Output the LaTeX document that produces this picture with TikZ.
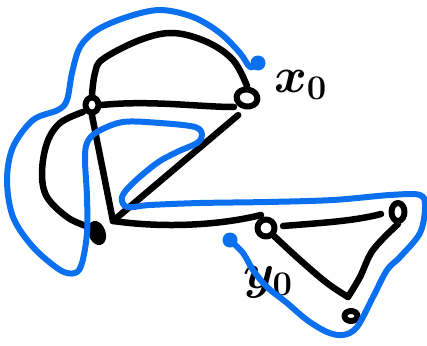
\documentclass[tikz,border=0pt]{standalone}
\usetikzlibrary{shapes.geometric}
\definecolor{pen}{RGB}{10,112,240}
\begin{document}
\begin{tikzpicture}[x=1pt,y=-1pt,line cap=round,line join=round,
  ink/.style={line width=6.5pt,black},
  blueink/.style={line width=6pt,color=pen},
  vtx/.style={ellipse,draw,line width=6pt,inner sep=0pt},
  bdot/.style={circle,fill=pen,inner sep=0pt,minimum size=15pt},
  lbl/.style={font=\Huge\boldmath,inner sep=0pt,anchor=base west}]
\useasboundingbox (0,0) rectangle (427,345);
% vertices
\node[vtx,minimum width=13pt,minimum height=15pt] (A) at (92,105) {};
\node[vtx,minimum width=21pt,minimum height=17pt,rotate=-10] (B) at (247,98) {};
\node[vtx,fill,minimum width=11pt,minimum height=19pt,rotate=20] (C) at (97,233) {};
\node[vtx,minimum width=17pt,minimum height=17pt] (D) at (266,228) {};
\node[vtx,minimum width=13pt,minimum height=18pt] (E) at (398,212) {};
\node[vtx,minimum width=13pt,minimum height=10pt] (F) at (351,316) {};
\coordinate (Cj) at (113,221);
\coordinate (Ft) at (348,297);
% edges
\draw[ink] plot[smooth,tension=0.6] coordinates {(A.north) (95,73) (103,59) (140,40) (173,33) (207,42) (233,60) (247,86)};
\draw[ink] (A.east) .. controls (150,100) and (200,107) .. (234,107);
\draw[ink] (A.south) -- (Cj);
\draw[ink] plot[smooth,tension=0.6] coordinates {(83,112) (60,123) (47,143) (42,173) (47,197) (67,217) (86,226)};
\draw[ink,shorten >=9pt] (Cj) -- (B.south);
\draw[ink] (Cj) .. controls (170,229) and (225,224) .. (261,215);
\draw[ink] (283,226) .. controls (320,223) and (355,221) .. (381,214);
\draw[ink] plot[smooth,tension=0.6] coordinates {(D.south east) (300,260) (327,283) (Ft)};
\draw[ink] plot[smooth,tension=0.6] coordinates {(E.south) (373,250) (360,277) (Ft)};
% labels
\node[lbl] (xl) at (274,92) {\scalebox{2}{$x_{\scriptscriptstyle 0}$}};
\node[lbl] (yl) at (243,288) {\scalebox{2}{$y_{\scriptscriptstyle 0}$}};
% blue curve
\node[bdot] (s) at (258,63) {};
\node[bdot] (t) at (230,240) {};
\draw[blueink] plot[smooth,tension=0.55] coordinates {(s) (250,67) (240,53) (220,33) (193,17) (160,10) (127,17) (97,30) (80,47) (72,73) (67,100) (58,110) (33,120) (13,147) (7,180) (13,217) (33,247) (60,270) (75,273) (82,263) (87,233) (87,197) (85,160) (87,143) (97,132) (123,122) (160,123) (195,127) (202,135) (197,143) (177,152) (157,163) (133,183) (122,197) (127,207) (150,205) (200,203) (267,202) (333,200) (390,195) (420,195) (425,207) (420,233) (400,257) (387,270) (373,297) (357,327) (343,335) (327,332) (307,320) (287,303) (267,287) (253,270) (243,253) (t)};
\end{tikzpicture}
\end{document}
